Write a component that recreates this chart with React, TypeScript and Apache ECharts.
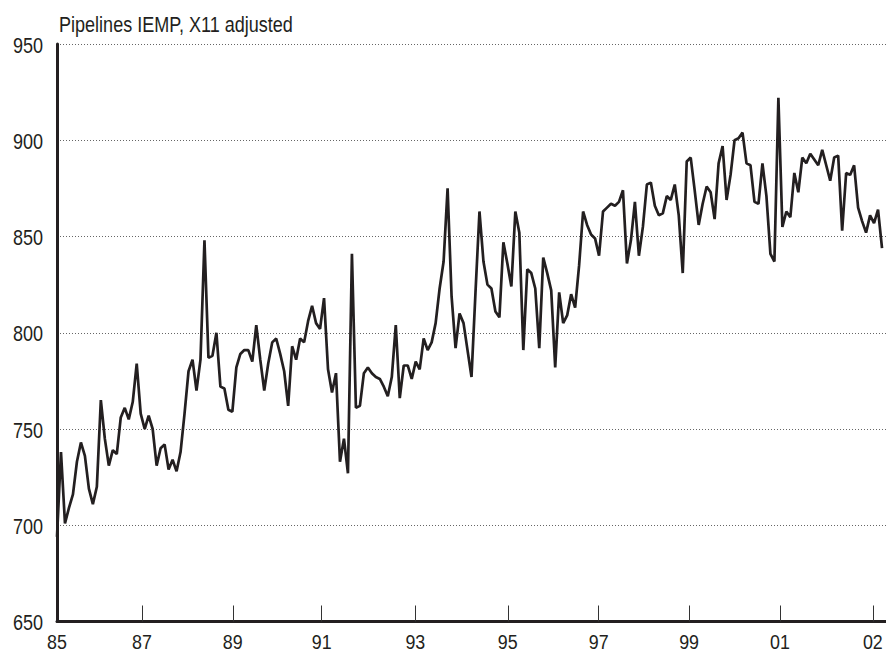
import React, { useEffect, useRef } from "react";
import * as echarts from "echarts";

const values: number[] = [
  694, 738, 701, 709, 716, 733, 743, 736, 719, 711,
  720, 765, 745, 731, 739, 737, 756, 761, 755, 764,
  784, 758, 750, 757, 750, 731, 740, 742, 729, 734,
  728, 738, 758, 780, 786, 770, 786, 848, 787, 788,
  800, 772, 771, 760, 759, 782, 789, 791, 791, 785,
  804, 786, 770, 784, 795, 797, 789, 780, 762, 793,
  786, 797, 795, 806, 814, 805, 802, 818, 781, 769,
  779, 733, 745, 727, 841, 761, 762, 779, 782, 779,
  777, 776, 772, 767, 777, 804, 766, 783, 783, 776,
  785, 781, 797, 791, 795, 805, 823, 837, 875, 819,
  792, 810, 805, 791, 777, 821, 863, 837, 825, 823,
  811, 808, 847, 836, 824, 863, 852, 791, 833, 831,
  823, 792, 839, 831, 822, 782, 821, 805, 809, 820,
  813, 835, 863, 856, 851, 849, 840, 863, 865, 867,
  866, 868, 874, 836, 848, 868, 840, 855, 877, 878,
  866, 861, 862, 871, 869, 877, 861, 831, 889, 891,
  874, 856, 867, 876, 873, 859, 888, 897, 869, 882,
  900, 901, 904, 888, 887, 868, 867, 888, 871, 841,
  837, 922, 855, 863, 860, 883, 873, 891, 888, 893,
  890, 887, 895, 887, 879, 891, 892, 853, 883, 882,
  887, 865, 858, 852, 861, 857, 864, 844,
];

// X-axis tick labels and where they sit (in observation-index units)
const xTickLabels: string[] = ["85", "87", "89", "91", "93", "95", "97", "99", "01", "02"];
const xTickValues: number[] = [0, 21.3, 44.1, 66.4, 89.9, 113.1, 135.9, 158.6, 181.4, 204.7];

// Y-axis tick values
const yTickValues: number[] = [650, 700, 750, 800, 850, 900, 950];

const titleText = "Pipelines IEMP, X11 adjusted";

const FONT = "'Liberation Sans', Arial, sans-serif";
const INK = "#231f20";
const NARROW = 0.82; // Arial Narrow look: Arial squeezed horizontally

export default function App() {
  const ref = useRef<HTMLDivElement>(null);

  useEffect(() => {
    if (!ref.current) return;
    const chart = echarts.init(ref.current, undefined, { renderer: "svg" });
    const seriesData = values.map((v, i) => [i, v]);
    chart.setOption({
      animation: false,
      backgroundColor: "#ffffff",
      grid: { left: 57, right: 0, top: 44, bottom: 32.5, containLabel: false },
      xAxis: {
        type: "value",
        min: 0,
        max: 208,
        axisLine: { show: true, onZero: false, lineStyle: { color: INK, width: 3 } },
        axisTick: {
          show: true,
          inside: true,
          length: 16,
          customValues: xTickValues.slice(1),
          lineStyle: { color: "#333", width: 1 },
        },
        axisLabel: { show: false },
        splitLine: { show: false },
      },
      yAxis: {
        type: "value",
        min: 650,
        max: 950,
        interval: 50,
        axisLine: { show: true, lineStyle: { color: INK, width: 3 } },
        axisTick: { show: false },
        axisLabel: { show: false },
        splitLine: { show: true, lineStyle: { color: "#666", width: 1, type: [1, 2] } },
      },
      series: [
        {
          type: "line",
          data: seriesData,
          showSymbol: false,
          symbol: "none",
          lineStyle: { color: INK, width: 2.7 },
          z: 5,
        },
      ],
    });

    // Axis labels and title, condensed like the original typeface,
    // positioned through the chart's own axis scales.
    const textStyle = (text: string, align: string, vAlign: string, size: number) => ({
      text,
      fill: INK,
      fontSize: size,
      fontFamily: FONT,
      align,
      verticalAlign: vAlign,
      textAlign: align,
      textVerticalAlign: vAlign,
    });
    const elements: any[] = [];
    elements.push({
      type: "text",
      x: 59,
      y: 24,
      scaleX: NARROW,
      silent: true,
      style: textStyle(titleText, "left", "middle", 22),
    });
    yTickValues.forEach((v) => {
      const py = chart.convertToPixel({ yAxisIndex: 0 }, v) as number;
      elements.push({
        type: "text",
        x: 43,
        y: py + 1,
        scaleX: NARROW,
        silent: true,
        style: textStyle(String(v), "right", "middle", 22),
      });
    });
    const axisY = chart.convertToPixel({ yAxisIndex: 0 }, 650) as number;
    xTickValues.forEach((v, k) => {
      const px = chart.convertToPixel({ xAxisIndex: 0 }, v) as number;
      elements.push({
        type: "text",
        x: px,
        y: axisY + 19.5,
        scaleX: NARROW + 0.03,
        silent: true,
        style: textStyle(xTickLabels[k], "center", "middle", 21),
      });
    });
    chart.setOption({ graphic: { elements } });

    return () => chart.dispose();
  }, []);

  return (
    <div
      ref={ref}
      style={{ position: "fixed", left: 0, top: 0, width: 886, height: 654, background: "#fff" }}
    />
  );
}
